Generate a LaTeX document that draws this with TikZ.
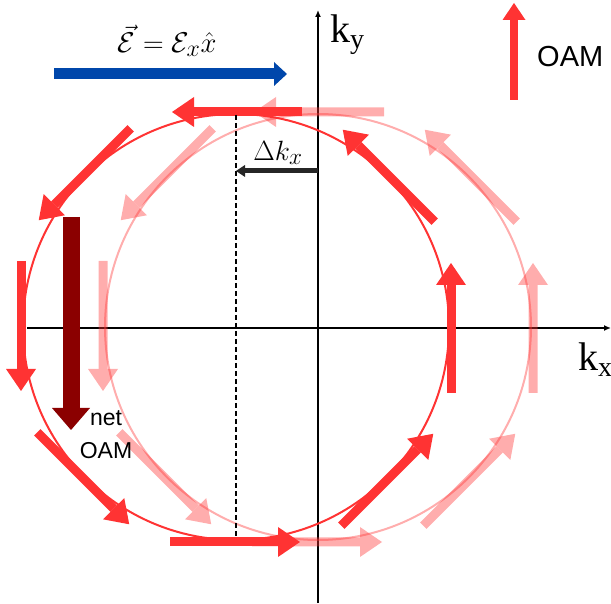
\RequirePackage{fix-cm}
\documentclass[tikz,border=0pt]{standalone}
\usepackage{amsmath,amssymb}
\usepackage{fontspec}
\usepackage{tikz}
\usetikzlibrary{arrows.meta,positioning,calc}
\newfontfamily\arialfont{Liberation Sans}
\newfontfamily\timesfont{Liberation Serif}
\definecolor{oamred}{RGB}{255,51,51}
\definecolor{fieldblue}{RGB}{0,71,171}
\definecolor{netred}{RGB}{139,0,0}
\definecolor{shiftgray}{RGB}{38,38,38}
\tikzset{
  oam/.style={oamred,line width=9pt,-{Triangle[length=22pt,width=30pt,line width=0pt]}},
  ring/.style={oamred,line width=2pt},
  axis/.style={line width=2.4pt,-{Latex[length=7pt,width=6pt]}},
  klabel/.style={inner sep=0pt,anchor=base west,font=\timesfont\fontsize{40}{44}\selectfont},
}

\begin{document}
\begin{tikzpicture}[x=1pt,y=1pt]
  \useasboundingbox (0,0) rectangle (611,603);
  \coordinate (c) at (236,276);  % shifted Fermi circle
  \coordinate (c0) at (318,276); % equilibrium circle
  % axes
  \coordinate (xl) at (27,275); \coordinate (xr) at (611,275);
  \coordinate (yb) at (318,0);  \coordinate (yt) at (318,593);
  \draw[axis] (xl)--(xr);
  \draw[axis] (yb)--(yt);
  \node[klabel] (kx) at (578,232) {k\textsubscript{x}};
  \node[klabel] (ky) at (330,560) {k\textsubscript{y}};
  % equilibrium circle, faded
  \draw[ring,opacity=0.4] (c0) circle[radius=213];
  \begin{scope}[transparency group,opacity=0.4]
    \foreach \a in {0,45,...,315}
      \draw[oam] ($(c0)+(\a:215)+(\a-90:66)$) -- ($(c0)+(\a:215)+(\a+90:64)$);
  \end{scope}
  % shifted circle
  \draw[ring] (c) circle[radius=213];
  \foreach \a in {0,45,...,315}
    \draw[oam] ($(c)+(\a:215)+(\a-90:66)$) -- ($(c)+(\a:215)+(\a+90:64)$);
  % shift
  \coordinate (dtop) at (236,488); \coordinate (dbot) at (236,66);
  \draw[line width=1.7pt,dash pattern=on 5pt off 3pt] (dtop)--(dbot);
  \coordinate (dk0) at (318,432); \coordinate (dk1) at (236,432);
  \draw[shiftgray,line width=5pt,-{Triangle[length=9pt,width=12pt,line width=0pt]}] (dk0)--(dk1);
  \node[font=\Huge,scale=1.12] (dklab) at (278,450) {$\Delta k_x$};
  % field
  \coordinate (e0) at (54,529); \coordinate (e1) at (287,529);
  \draw[fieldblue,line width=11pt,-{Triangle[length=13pt,width=24pt,line width=0pt]}] (e0)--(e1);
  \node[font=\Huge,scale=1.15] (elab) at (167,562) {$\vec{\mathcal{E}}=\mathcal{E}_x\hat{x}$};
  % net OAM
  \coordinate (n0) at (71,386); \coordinate (n1) at (71,173);
  \draw[netred,line width=17pt,-{Triangle[length=22pt,width=38pt,line width=0pt]}] (n0)--(n1);
  \node[align=center,font=\arialfont\fontsize{23}{33}\selectfont] (netlab) at (106,168) {net\\OAM};
  % legend
  \coordinate (l0) at (514,503); \coordinate (l1) at (514,600);
  \draw[oamred,line width=8pt,-{Triangle[length=17pt,width=23pt,line width=0pt]}] (l0)--(l1);
  \node[anchor=west,inner sep=0pt,font=\arialfont\fontsize{29}{31}\selectfont] (oamlab) at (537,546) {OAM};
\end{tikzpicture}
\end{document}
